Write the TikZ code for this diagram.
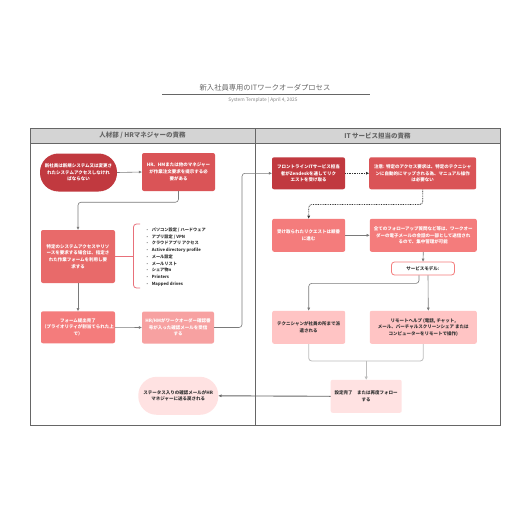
\documentclass[tikz,border=0pt]{standalone}
\usepackage{fontspec}
\setmainfont{Noto Sans CJK JP}
\usetikzlibrary{arrows.meta,calc}
\definecolor{cA}{HTML}{C1393F}
\definecolor{cB}{HTML}{DA5457}
\definecolor{cC}{HTML}{E86A6A}
\definecolor{cD}{HTML}{F47C7C}
\definecolor{cE}{HTML}{F7A1A1}
\definecolor{cF}{HTML}{FFC4C4}
\definecolor{cG}{HTML}{FFE2E2}
\definecolor{pinkline}{HTML}{E8707A}
\definecolor{framec}{HTML}{666666}
\definecolor{headc}{HTML}{D4D4D4}
\definecolor{linec}{HTML}{7A7A7A}
\definecolor{lightline}{HTML}{BDBDBD}
\definecolor{darktext}{HTML}{333333}
\begin{document}
\begin{tikzpicture}[x=1pt,y=-1pt,
  box/.style={rectangle, draw=none, rounded corners=2pt, align=center, inner sep=0pt,
    font=\fontsize{4.5}{6.7}\selectfont\bfseries, text=white},
  stadium/.style={box, rounded corners=18.5pt},
  darkbox/.style={text=darktext},
  conn/.style={draw=linec, line width=0.6pt, -{Triangle[length=3pt,width=2.6pt]}, rounded corners=3pt},
  dotconn/.style={draw=darktext, line width=0.8pt, dash pattern=on 0.8pt off 0.9pt, -{Triangle[length=3pt,width=2.6pt]}, rounded corners=3pt},
  lightconn/.style={draw=lightline, line width=0.8pt, rounded corners=3pt},
  headtext/.style={font=\fontsize{6.5}{7}\selectfont\bfseries, text=framec}
]
\useasboundingbox (0,0) rectangle (516,516);
\fill[white] (0,0) rectangle (516,516);

% title
\node[font=\fontsize{7.3}{8}\selectfont, text=framec] (title) at (265,87.5) {新入社員専用のITワークオーダプロセス};
\draw[framec, line width=0.6pt] (162,94) -- (370,94);
\node[font=\fontsize{4.8}{5.5}\selectfont, text=framec!80] (subtitle) at (263,99.8) {System Template | April 4, 2025};

% lanes
\fill[headc] (30,128) rectangle (500,143.5);
\draw[framec, line width=0.9pt] (30,128) rectangle (500,425);
\draw[framec, line width=0.9pt] (30,143.5) -- (500,143.5);
\draw[framec, line width=0.9pt] (255,128) -- (255,425);
\node[headtext] (h1) at (142.5,135.8) {人材部 / HRマネジャーの責務};
\node[headtext] (h2) at (377.5,135.8) {IT サービス担当の責務};

% left lane
\node[stadium, fill=cA, minimum width=77, minimum height=38] (n1) at (78.5,172.5)
  {新社員は新規システム又は変更さ\\れたシステムアクセスしなけれ\\ばならない};
\node[box, fill=cB, minimum width=73, minimum height=38] (n2) at (178.5,172)
  {HR、HMまたは他のマネジャー\\が作業注文要求を提示する必\\要がある};
\node[box, fill=cC, minimum width=74, minimum height=53] (n3) at (78,256.5)
  {特定のシステムアクセスやリソ\\ースを要求する場合は、指定さ\\れた作業フォームを利用し要\\求する};
\node[box, fill=cD, minimum width=74, minimum height=32] (n5) at (78,327.3)
  {フォーム提出完了\\（プライオリティが割当てられた上\\で）};
\node[box, fill=cE, minimum width=72, minimum height=32] (n6) at (178,327.5)
  {HR/HMがワークオーダー確認番\\号が入った確認メールを受信\\する};

% bracket list
\coordinate (br) at (133.5,256.5);
\draw[pinkline, line width=0.8pt, rounded corners=3pt] (140,224) -- (133.5,224) -- (133.5,288) -- (140,288);
\node[anchor=north west, inner sep=0pt, text=darktext, font=\fontsize{4.2}{6.75}\selectfont\bfseries] (list) at (146.5,226.5)
  {\begin{tabular}{@{}l@{\hspace{3.5pt}}l@{}}
  - & パソコン設定 / ハードウェア\\
  - & アプリ設定 / VPN\\
  - & クラウドアプリ アクセス\\
  - & Active directory profile\\
  - & メール設定\\
  - & メールリスト\\
  - & シェア物n\\
  - & Printers\\
  - & Mapped drives
  \end{tabular}};

% right lane
\node[box, fill=cA, minimum width=73, minimum height=32] (n7) at (308.5,173.3)
  {フロントラインITサービス担当\\者がZendeskを通してリク\\エストを受け取る};
\node[box, fill=cB, minimum width=107, minimum height=32] (n8) at (422.7,173.3)
  {注意: 特定のアクセス要求は、特定のテクニシャ\\ンに自動的にマップされる為、マニュアル操作\\は必要ない};
\node[box, fill=cD, minimum width=73, minimum height=33] (n9) at (308.7,235.3)
  {受け取られたリクエストは順番\\に進む};
\node[box, fill=cD, minimum width=107, minimum height=33] (n10) at (423.3,235.3)
  {全てのフォローアップ質問など等は、ワークオー\\ダーの電子メールの会話の一部として送信され\\るので、集中管理が可能};
\node[box, fill=white, draw=cD, line width=0.8pt, darkbox, minimum width=63, minimum height=13, rounded corners=3pt] (n11) at (423,268.5)
  {サービスモデル:};
\node[box, fill=cF, darkbox, minimum width=73, minimum height=33] (n12) at (308.7,327.3)
  {テクニシャンが社員の所まで派\\遣される};
\node[box, fill=cF, darkbox, minimum width=107, minimum height=33] (n13) at (423.3,327.3)
  {リモートヘルプ (電話, チャット,\\メール、バーチャルスクリーンシェア または\\コンピューターをリモートで操作)};
\node[box, fill=cG, darkbox, minimum width=71, minimum height=33] (n14) at (366.2,396.3)
  {設定完了　または再度フォロー\\する};
\node[stadium, fill=cG, darkbox, minimum width=80, minimum height=38] (n15) at (178.3,395.8)
  {ステータス入りの確認メールがHR\\マネジャーに送る戻される};

% connectors
\draw[conn] (n1.east) -- (n2.west);
\draw[conn] (n2.south) -- ++(0,11) -| (n3.north);
\draw[pinkline, line width=0.8pt] (n3.east) -- (br);
\draw[conn] (n3.south) -- (n5.north);
\draw[conn] (n5.east) -- (n6.west);
\draw[conn] (n6.east) -- (242,327.5) |- (n7.west);
\draw[dotconn] (n7.east) -- (n8.west);
\draw[dotconn] (n8.south) -- ++(0,15) -| (n9.north);
\draw[conn] (n9.east) -- (n10.west);
\draw[conn] (n10.south) -- (n11.north);
\draw[conn] ($(n11.south)+(-4,0)$) -- ++(0,8) -| (n12.north);
\draw[conn] ($(n11.south)+(5,0)$) -- ($(n13.north)+(5,0)$);
\coordinate (merge) at (366.2,361);
\draw[lightconn] (n12.south) |- (merge);
\draw[lightconn] (n13.south) |- (merge);
\draw[draw=lightline, line width=1.3pt, -{Triangle[length=3pt,width=3pt]}] (merge) -- (n14.north);
\draw[conn, draw=framec, line width=0.9pt] (n14.west) -- (n15.east);
\end{tikzpicture}
\end{document}
